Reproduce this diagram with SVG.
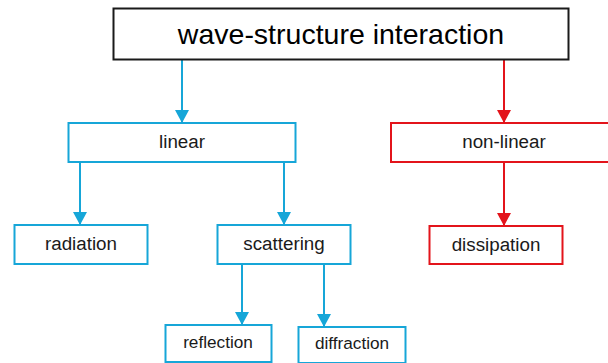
<svg xmlns="http://www.w3.org/2000/svg" width="608" height="363" viewBox="0 0 608 363">
<style>
text{font-family:"Liberation Sans",Arial,sans-serif;text-anchor:middle;fill:#1a1a1a}
.b{fill:#fff;stroke:#16a6d8;stroke-width:2}
.r{fill:#fff;stroke:#e3141b;stroke-width:2}
.k{fill:#fff;stroke:#1a1a1a;stroke-width:2}
.lb{stroke:#16a6d8;stroke-width:2;fill:none}
.lr{stroke:#e3141b;stroke-width:2;fill:none}
.t18{font-size:18.8px}
.t17{font-size:17.2px}
</style>
<defs>
<marker id="ab" markerUnits="userSpaceOnUse" markerWidth="14" markerHeight="14" viewBox="0 0 14 14" refX="13" refY="7" orient="auto"><path d="M0,0 L13,7 L0,14 Z" fill="#16a6d8"/></marker>
<marker id="ar" markerUnits="userSpaceOnUse" markerWidth="14" markerHeight="14" viewBox="0 0 14 14" refX="13" refY="7" orient="auto"><path d="M0,0 L13,7 L0,14 Z" fill="#e3141b"/></marker>
</defs>
<g id="connectors">
<line class="lb" x1="182" y1="60" x2="182" y2="123" marker-end="url(#ab)"/>
<line class="lr" x1="504" y1="60" x2="504" y2="123" marker-end="url(#ar)"/>
<line class="lb" x1="80" y1="162" x2="80" y2="225" marker-end="url(#ab)"/>
<line class="lb" x1="284" y1="162" x2="284" y2="225" marker-end="url(#ab)"/>
<line class="lr" x1="504" y1="162" x2="504" y2="226" marker-end="url(#ar)"/>
<line class="lb" x1="242" y1="264" x2="242" y2="325" marker-end="url(#ab)"/>
<line class="lb" x1="324" y1="264" x2="324" y2="327" marker-end="url(#ab)"/>
</g>
<g id="wsi"><rect class="k" x="113.5" y="8.5" width="455" height="51"/><text x="341" y="44" font-size="28.5px" style="fill:#000">wave-structure interaction</text></g>
<g id="linear"><rect class="b" x="68.5" y="123" width="227" height="39"/><text class="t18" x="182" y="148">linear</text></g>
<g id="nonlinear"><rect class="r" x="391" y="123" width="226" height="39"/><text class="t18" x="504" y="148">non-linear</text></g>
<g id="radiation"><rect class="b" x="14.5" y="225" width="133" height="39"/><text class="t18" x="81" y="250">radiation</text></g>
<g id="scattering"><rect class="b" x="217.5" y="225" width="133" height="39"/><text class="t18" x="284" y="250">scattering</text></g>
<g id="dissipation"><rect class="r" x="429.5" y="226" width="133" height="38"/><text class="t18" x="496" y="251">dissipation</text></g>
<g id="reflection"><rect class="b" x="165.5" y="325" width="106" height="37"/><text class="t17" x="218" y="348">reflection</text></g>
<g id="diffraction"><rect class="b" x="298.5" y="327" width="107" height="36"/><text class="t17" x="352" y="349">diffraction</text></g>
</svg>
